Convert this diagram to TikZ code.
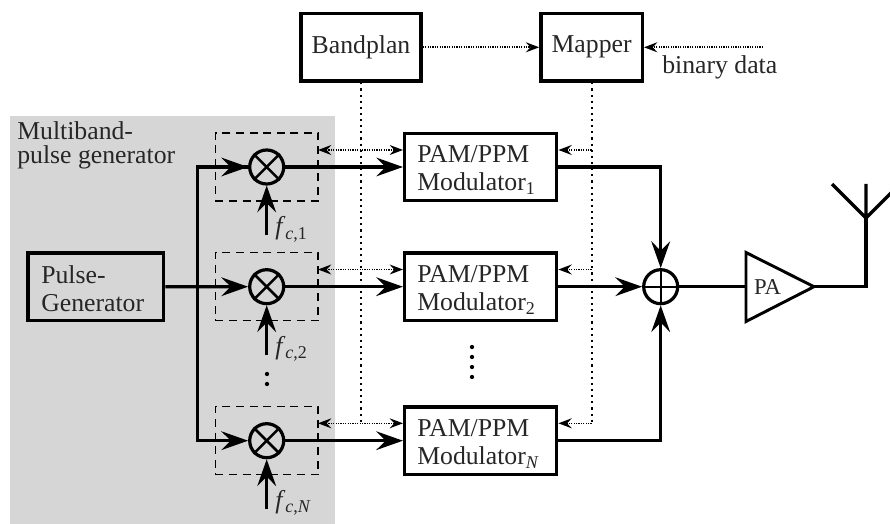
\documentclass[tikz,border=0pt]{standalone}
\usepackage{fontspec}
\setmainfont{Liberation Serif}
\usetikzlibrary{arrows.meta}
\definecolor{panel}{RGB}{214,214,214}
\tikzset{
  lbl/.style={inner sep=0pt,font=\fontsize{19.3}{23}\selectfont,text=black!85},
  blockbox/.style={draw,line width=2.6pt,minimum width=#1,minimum height=50.5pt,inner sep=0pt},
  blockbox/.default=114pt,
  wire/.style={line width=2.4pt},
  flow/.style={wire,-{Stealth[length=20pt,width=14pt,inset=7pt]}},
  ctrl/.style={line width=1.2pt,dash pattern=on .9pt off .9pt},
  ctrlto/.style={ctrl,-{Stealth[length=10pt,width=7.5pt,inset=3.5pt]}},
  ctrlboth/.style={ctrl,{Stealth[length=10pt,width=7.5pt,inset=3.5pt]}-{Stealth[length=10pt,width=7.5pt,inset=3.5pt]}},
  bus/.style={line width=1.5pt,dash pattern=on 1.6pt off 3pt},
  group/.style={draw,line width=1pt,dash pattern=on 6pt off 4.2pt,minimum width=77pt,minimum height=51pt,inner sep=0pt,outer sep=0pt},
  mixer/.style={circle,draw,line width=2.4pt,minimum size=25.5pt,inner sep=0pt},
  dotmark/.style={circle,fill=black,minimum size=3.2pt,inner sep=0pt},
}
\begin{document}
\begin{tikzpicture}[x=.75pt,y=-.75pt]
\useasboundingbox (0,0) rectangle (890,524);
\fill[panel] (10,116) rectangle (335,524);

% top blocks
\node[blockbox=90pt] (band) at (361,47.3) {};
\node[lbl] (bandt) at (361,47.3) {Bandplan};
\node[blockbox=76pt] (map) at (591.6,47.3) {};
\node[lbl] (mapt) at (591.6,47.3) {Mapper};
\coordinate (data) at (763,47.3);
\node[lbl,anchor=base west] (datat) at (662,74) {binary data};

% pulse generator
\node[blockbox=101.8pt] (pg) at (95.8,286.8) {};
\node[lbl,anchor=base west] (pg1) at (41,284) {Pulse-};
\node[lbl,anchor=base west] (pg2) at (41,311.3) {Generator};
\node[lbl,anchor=base west] (mb1) at (17,140) {Multiband-};
\node[lbl,anchor=base west] (mb2) at (17,164) {pulse generator};

% sum
\node[mixer] (sum) at (660.7,286.7) {};
\draw[line width=1.6pt] (sum.north) -- (sum.south) (sum.west) -- (sum.east);

% rows
\foreach \r/\y/\ctl/\sub/\lab in {1/167/150/1/1, 2/286.7/269.5/2/2, 3/440.7/423.3/\textit{N}/\textit{N}}{
  \node[group] (grp\r) at (266.7,\y) {};
  \node[mixer] (mix\r) at (266.7,\y) {};
  \draw[line width=1.9pt] (mix\r.north west) -- (mix\r.south east) (mix\r.north east) -- (mix\r.south west);
  \node[blockbox] (mod\r) at (480.7,\y) {};
  \node[lbl,anchor=base west] (modu\r) at (417,\y-4) {PAM/PPM};
  \node[lbl,anchor=base west] (modv\r) at (417,\y+23.7) {Modulator\textsubscript{\sub}};
  \coordinate (tap\r) at (361,\ctl);
  \coordinate (mtap\r) at (591.6,\ctl);
  \draw[flow] (mix\r) -- (mod\r);
  \draw[ctrlboth] (tap\r -| grp\r.east) -- (tap\r -| mod\r.west);
  \draw[ctrlto] (mtap\r) -- (mtap\r -| mod\r.east);
  \coordinate (fc\r) at (266.7,\y+68);
  \draw[flow] (fc\r) -- (mix\r);
  \node[lbl,anchor=base west] (fl\r) at (275,\y+68) {\textit{f}\textsubscript{\textit{c},\lab}};
}

% buses
\draw[bus] (band) ++(0,35) -- (tap3);
\draw[bus] (map) ++(0,35) -- (mtap3);
\draw[ctrlto] (band) -- (map);
\draw[ctrlto] (data) -- (map);

% feed
\coordinate (feedtop) at (197.3,167);
\coordinate (feedbot) at (197.3,440.7);
\draw[flow] (pg) -- (mix2);
\draw[wire,line join=miter] (mix1) ++(-17,0) -- (feedtop) -- (feedbot) -- ++(17,0);
\draw[flow] (feedtop) -- (mix1);
\draw[flow] (feedbot) -- (mix3);

% combine
\draw[flow] (mod1.east) -| (sum.north);
\draw[flow] (mod2) -- (sum);
\draw[flow] (mod3.east) -| (sum.south);

% PA + antenna
\coordinate (paleft) at (746,286.7);
\coordinate (patip) at (814,286.7);
\draw[line width=2.2pt,line join=miter] (746,252.5) -- (patip) -- (746,321.5) -- cycle;
\node[lbl,font=\fontsize{17}{20}\selectfont] (pat) at (767.5,287) {PA};
\coordinate (anta) at (866,286.7);
\coordinate (antb) at (866,218);
\draw[wire] (sum) ++(17,0) -- (paleft);
\draw[wire,line join=miter] (patip) -- (anta) -- (antb);
\draw[wire] (antb) -- (832,184) (antb) -- (866,184) (antb) -- (900,184);

% dots
\node[dotmark] (l1) at (267,374) {};
\node[dotmark] (l2) at (267,384) {};
\node[dotmark] (d1) at (472,347) {};
\node[dotmark] (d2) at (472,357) {};
\node[dotmark] (d3) at (472,367) {};
\node[dotmark] (d4) at (472,377) {};
\end{tikzpicture}
\end{document}
